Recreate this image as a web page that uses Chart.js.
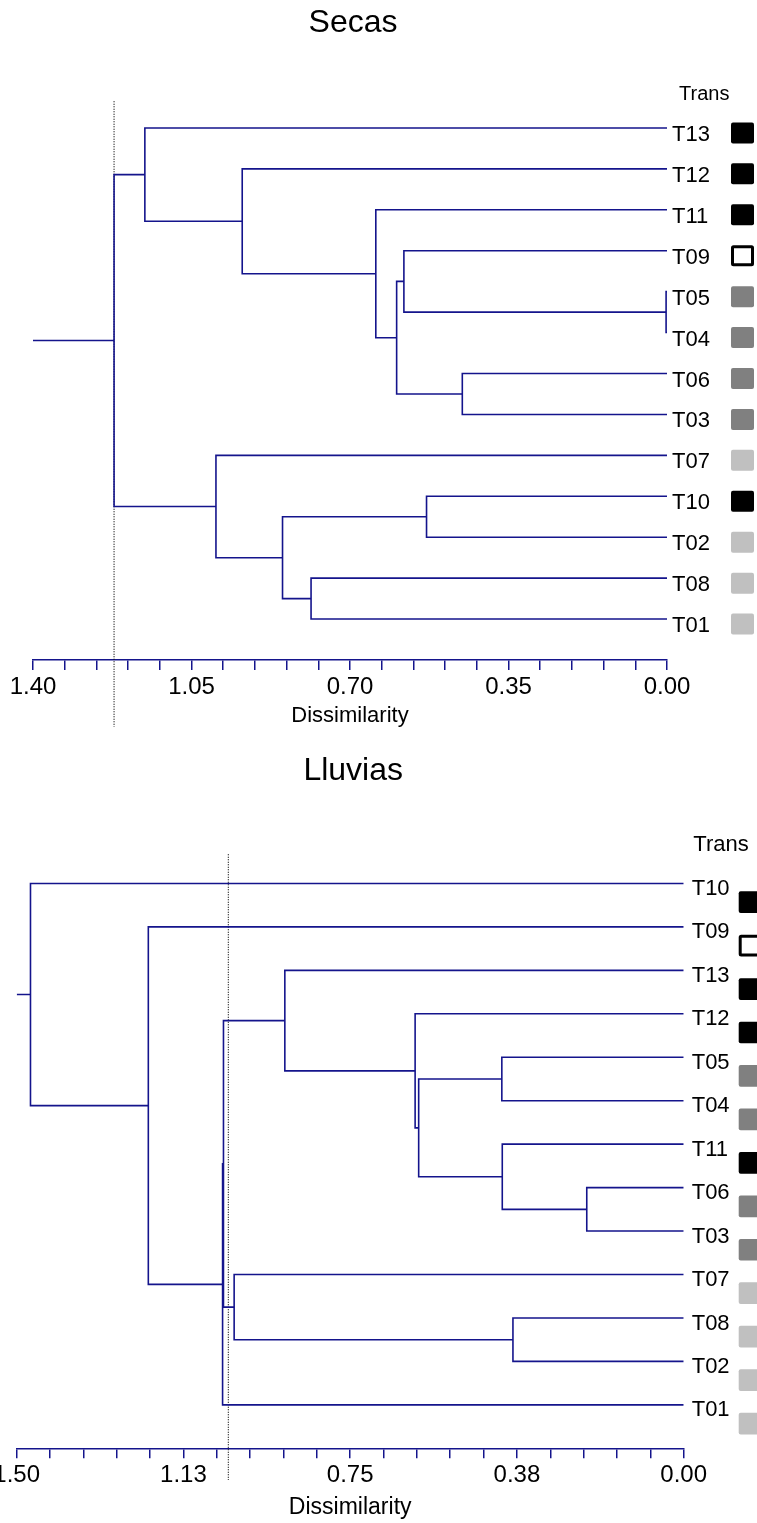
<!DOCTYPE html>
<html>
<head>
<meta charset="utf-8">
<script src="https://cdn.jsdelivr.net/npm/chart.js@4.4.1/dist/chart.umd.min.js"></script>
<style>
  body { margin: 0; background: #fff; }
  canvas { display: block; }
</style>
</head>
<body>
<canvas id="secas" width="757" height="745"></canvas>
<canvas id="lluvias" width="757" height="778"></canvas>
<script>
const FONT = '"Liberation Sans", Arial, sans-serif';
const NAVY = '#14148c';

// --- Secas (dry season) ---
const secasLeaves = ['T13', 'T12', 'T11', 'T09', 'T05', 'T04', 'T06', 'T03', 'T07', 'T10', 'T02', 'T08', 'T01'];
const secasTrans = [1, 1, 1, 2, 3, 3, 3, 3, 4, 1, 4, 4, 4];
// [left, right, height]; 'nK' = cluster made at merge K
const secasMerges = [
  ['T05', 'T04', 0.002],
  ['T09', 'n0', 0.581],
  ['T06', 'T03', 0.452],
  ['n1', 'n2', 0.597],
  ['T11', 'n3', 0.643],
  ['T12', 'n4', 0.938],
  ['T13', 'n5', 1.153],
  ['T10', 'T02', 0.531],
  ['T08', 'T01', 0.786],
  ['n7', 'n8', 0.849],
  ['T07', 'n9', 0.996],
  ['n6', 'n10', 1.221]
];
const secasCut = 1.221;
const secasMax = 1.40;
const secasTickLabels = ['0.00', '0.35', '0.70', '1.05', '1.40'];

// --- Lluvias (rainy season) ---
const lluviasLeaves = ['T10', 'T09', 'T13', 'T12', 'T05', 'T04', 'T11', 'T06', 'T03', 'T07', 'T08', 'T02', 'T01'];
const lluviasTrans = [1, 2, 1, 1, 3, 3, 1, 3, 3, 4, 4, 4, 4];
const lluviasMerges = [
  ['T06', 'T03', 0.218],
  ['T11', 'n0', 0.408],
  ['T05', 'T04', 0.409],
  ['n2', 'n1', 0.596],
  ['T12', 'n3', 0.604],
  ['T13', 'n4', 0.897],
  ['T08', 'T02', 0.384],
  ['T07', 'n6', 1.011],
  ['n5', 'n7', 1.035],
  ['n8', 'T01', 1.037],
  ['T09', 'n9', 1.204],
  ['T10', 'n10', 1.469]
];
const lluviasCut = 1.024;
const lluviasMax = 1.50;
const lluviasTickLabels = ['0.00', '0.38', '0.75', '1.13', '1.50'];

const transFill = { 1: '#000000', 2: null, 3: '#808080', 4: '#c0c0c0' };

function dendroDatasets(leaves, merges, axisMax, cut, cutFrom, cutTo) {
  const line = { showLine: true, pointRadius: 0, borderColor: NAVY, borderWidth: 1.6, fill: false };
  const nodes = {};
  leaves.forEach((name, i) => { nodes[name] = { y: i, h: 0 }; });
  const sets = [];
  merges.forEach(([a, b, h], k) => {
    const L = nodes[a], R = nodes[b];
    sets.push({ ...line, data: [{ x: L.h, y: L.y }, { x: h, y: L.y }, { x: h, y: R.y }, { x: R.h, y: R.y }] });
    nodes['n' + k] = { y: (L.y + R.y) / 2, h: h };
  });
  const root = nodes['n' + (merges.length - 1)];
  sets.push({ ...line, data: [{ x: root.h, y: root.y }, { x: axisMax, y: root.y }] });
  // cut level, dotted
  sets.push({
    showLine: true, pointRadius: 0, borderColor: '#111', borderWidth: 1.2, borderDash: [1, 1.5],
    clip: false, data: [{ x: cut, y: cutFrom }, { x: cut, y: cutTo }]
  });
  return sets;
}

const transPlugin = {
  id: 'transBoxes',
  afterDraw(chart, args, o) {
    const { ctx, chartArea, scales } = chart;
    ctx.save();
    ctx.fillStyle = '#000';
    ctx.textBaseline = 'middle';
    ctx.textAlign = 'center';
    ctx.font = o.titleSize + 'px ' + FONT;
    ctx.fillText(o.title, (chartArea.left + chartArea.right) / 2 + 3, o.titleY);
    ctx.textAlign = 'left';
    ctx.font = o.headSize + 'px ' + FONT;
    ctx.fillText('Trans', chartArea.right + o.headDx, chartArea.top + o.headDy);
    o.groups.forEach((g, i) => {
      const cy = scales.y.getPixelForValue(i) + o.boxDy;
      const x = chartArea.right + o.boxDx;
      const y = cy - o.boxH / 2;
      ctx.beginPath();
      if (transFill[g]) {
        ctx.roundRect(x, y, o.boxW, o.boxH, 2);
        ctx.fillStyle = transFill[g];
        ctx.fill();
      } else {
        ctx.roundRect(x + 1.5, y + 1.5, o.boxW - 3, o.boxH - 3, 1);
        ctx.fillStyle = '#fff';
        ctx.fill();
        ctx.lineWidth = 3;
        ctx.strokeStyle = '#000';
        ctx.stroke();
      }
    });
    ctx.restore();
  }
};

function drawDendro(id, c) {
  new Chart(document.getElementById(id), {
    type: 'scatter',
    data: { datasets: dendroDatasets(c.leaves, c.merges, c.max, c.cut, c.cutFrom, c.cutTo) },
    options: {
      responsive: false,
      animation: false,
      layout: { padding: c.padding },
      plugins: {
        legend: { display: false },
        tooltip: { enabled: false },
        transBoxes: c.extras
      },
      scales: {
        x: {
          type: 'linear', position: 'bottom', reverse: true, min: 0, max: c.max,
          grid: { drawOnChartArea: false, drawTicks: true, tickLength: 10, color: NAVY, lineWidth: 1.5 },
          border: { display: true, color: NAVY, width: 1.5 },
          ticks: {
            autoSkip: false, maxRotation: 0, padding: c.tickPad, color: '#000',
            font: { family: FONT, size: 24 },
            callback: (v, i) => (i % 5 === 0 ? c.tickLabels[i / 5] : '')
          },
          title: {
            display: true, text: 'Dissimilarity', color: '#000',
            font: { family: FONT, size: c.xTitleSize }, padding: { top: 2, bottom: c.xTitleBottom }
          },
          afterBuildTicks: (axis) => {
            axis.ticks = Array.from({ length: 21 }, (_, i) => ({ value: c.max * i / 20 }));
          },
          afterFit: (axis) => {
            axis.height = c.xHeight;
            axis.paddingLeft = 0;
            axis.paddingRight = 0;
          }
        },
        y: {
          type: 'linear', position: 'right', reverse: true, min: -1, max: 13,
          grid: { display: false, drawTicks: false },
          border: { display: false },
          ticks: {
            autoSkip: false, padding: c.labelPad, labelOffset: c.labelOffset, color: '#000',
            font: { family: FONT, size: 22 },
            callback: (v) => c.leaves[v]
          },
          afterBuildTicks: (axis) => {
            axis.ticks = c.leaves.map((_, i) => ({ value: i }));
          },
          afterFit: (axis) => {
            axis.width = c.yWidth;
            axis.paddingTop = 0;
            axis.paddingBottom = 0;
          }
        }
      }
    },
    plugins: [transPlugin]
  });
}

drawDendro('secas', {
  leaves: secasLeaves, merges: secasMerges, max: secasMax, cut: secasCut,
  cutFrom: -0.65, cutTo: 14.63, tickLabels: secasTickLabels,
  padding: { top: 87, left: 33, right: 0, bottom: 0 },
  xHeight: 85, tickPad: 3, xTitleSize: 22, xTitleBottom: 16,
  yWidth: 90, labelPad: 5, labelOffset: 7,
  extras: {
    title: 'Secas', titleSize: 32, titleY: 23,
    headSize: 20, headDx: 12, headDy: 7,
    groups: secasTrans, boxDx: 64, boxDy: 5, boxW: 23, boxH: 21
  }
});

drawDendro('lluvias', {
  leaves: lluviasLeaves, merges: lluviasMerges, max: lluviasMax, cut: lluviasCut,
  cutFrom: -0.67, cutTo: 13.73, tickLabels: lluviasTickLabels,
  padding: { top: 95, left: 16.7, right: 0, bottom: 0 },
  xHeight: 74.7, tickPad: 2.5, xTitleSize: 23, xTitleBottom: 1.2,
  yWidth: 73.3, labelPad: 8, labelOffset: 5.5,
  extras: {
    title: 'Lluvias', titleSize: 32, titleY: 26,
    headSize: 22, headDx: 9.6, headDy: 5,
    groups: lluviasTrans, boxDx: 55, boxDy: 18.7, boxW: 22, boxH: 21.7
  }
});
</script>
</body>
</html>
